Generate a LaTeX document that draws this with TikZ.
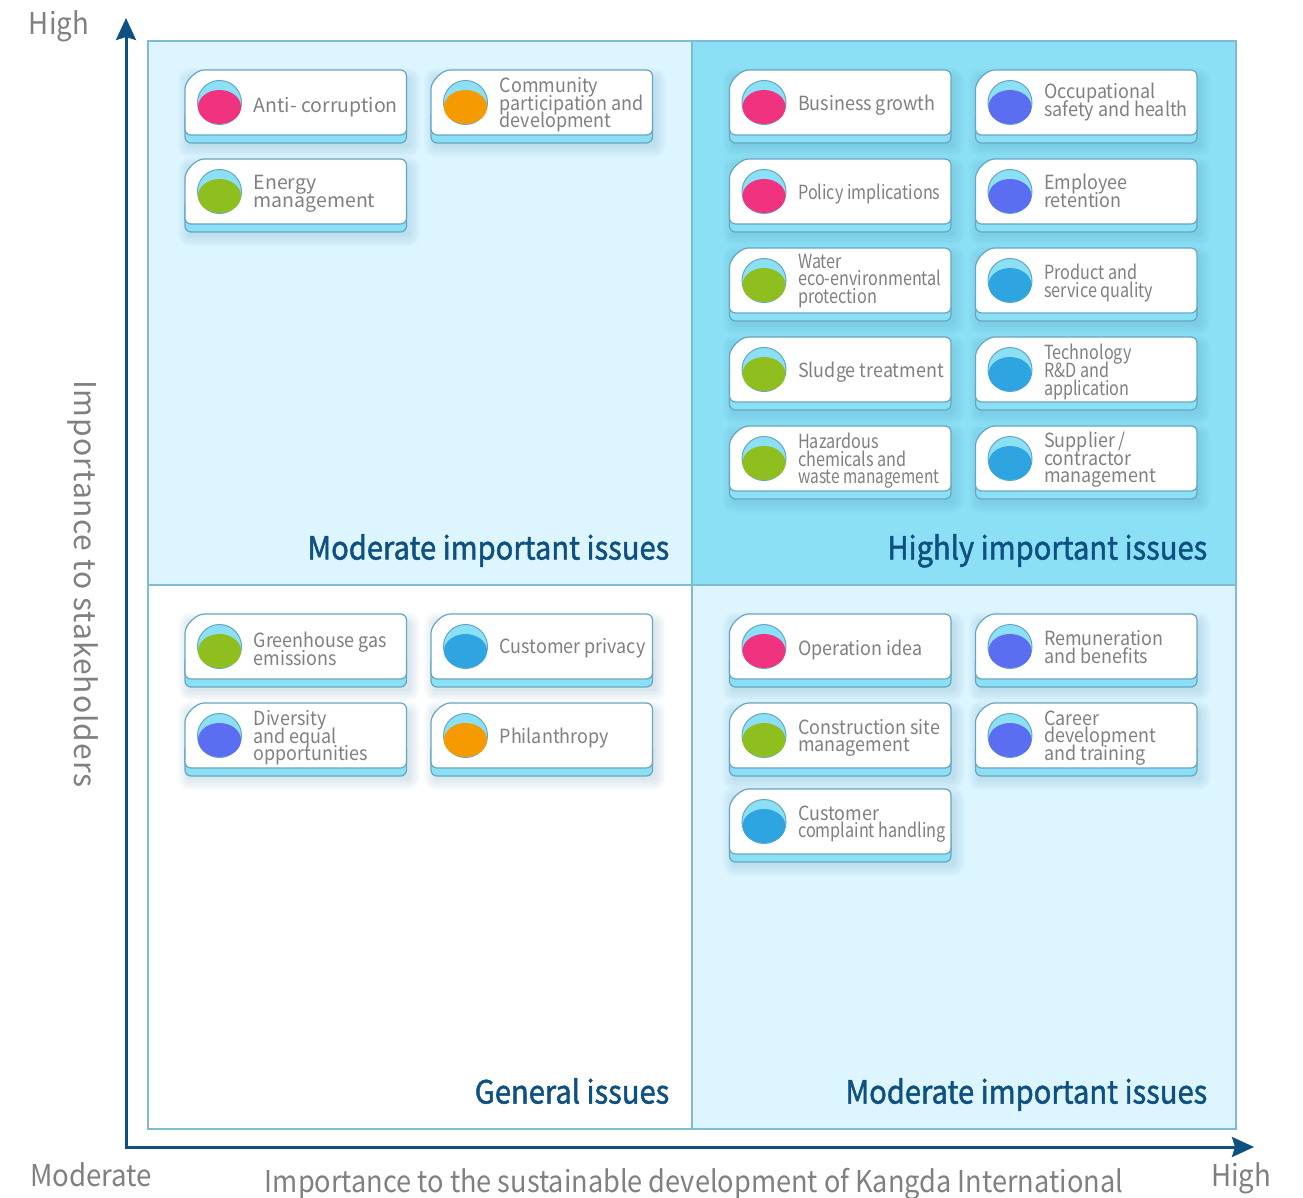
\documentclass[tikz,border=0pt]{standalone}
\usepackage{fontspec}
\setmainfont[FakeStretch=0.92]{Noto Sans CJK SC}
\newfontfamily\headfont[FakeStretch=0.91, FakeBold=1.5]{Noto Sans CJK SC}
\newfontfamily\tightfont[FakeStretch=0.83]{Noto Sans CJK SC}
\newfontfamily\thinfont[FakeStretch=0.79]{Noto Sans CJK SC}
\newfontfamily\widefont{Noto Sans CJK SC}
\newfontfamily\spacedfont[LetterSpace=3.5]{Noto Sans CJK SC}
\newfontfamily\longfont[FakeStretch=0.905]{Noto Sans CJK SC}
\newcommand\cardfont{\fontsize{19.5}{17.6}\selectfont\lineskiplimit=-20pt\relax}
\usetikzlibrary{arrows.meta, positioning}

\definecolor{paleblue}{HTML}{DCF5FF}
\definecolor{skyblue}{HTML}{8CE0F6}
\definecolor{edgeblue}{HTML}{7FBCD3}
\definecolor{cardedge}{HTML}{66A6BF}
\definecolor{navy}{HTML}{0E5082}
\definecolor{labelgrey}{HTML}{808080}
\definecolor{dotpink}{HTML}{F1327F}
\definecolor{dotgreen}{HTML}{8FBF1E}
\definecolor{dotblue}{HTML}{5B6EF2}
\definecolor{dotcyan}{HTML}{2EA5E0}
\definecolor{dotorange}{HTML}{F59A00}

\tikzset{
	labely/.store in = \labely,
	labely = 35,
	panel/.style = {draw=edgeblue, line width=2pt, minimum size=544pt, inner sep=0pt, anchor=north west},
	heading/.style = {font=\headfont\fontsize{32}{36}\selectfont, text=navy, inner sep=0pt},
	axislabel/.style = {font=\fontsize{30}{34}\selectfont, text=labelgrey, inner sep=0pt},
	cardtext/.style = {font=\cardfont, text=labelgrey, align=left, anchor=west, inner sep=0pt},
	pics/issue/.style 2 args = {code = {
		\foreach \g in {2,4,...,12}
			\fill[navy!60!skyblue, opacity=.03, rounded corners=\g pt]
				({5-\g},{10-\g}) rectangle ({223+\g},{75+\g});
		\draw[cardedge, fill=skyblue, line width=1.2pt, rounded corners=6pt] (0,40) -- (221.5,40) -- (221.5,73) -- (0,73) -- cycle;
		\draw[cardedge, fill=white, line width=1.2pt, rounded corners=6pt]
			(0,25) .. controls (0,11) and (11,0) .. (25,0) -- (221.5,0) -- (221.5,65) -- (0,65) -- cycle;
		\node[circle, draw=cardedge, fill=skyblue, line width=1pt, minimum size=44pt, inner sep=0pt] (-ball) at (34.5,32.5) {};
		\fill[#1] (34.5,37) ellipse [x radius=21.5, y radius=17];
		\node[cardtext] (-label) at (68.5,\labely) {#2};
	}}
}

\begin{document}
\begin{tikzpicture}[x=1pt, y=-1pt]
	\useasboundingbox (0,0) rectangle (1303,1198);
	\fill[white] (0,0) rectangle (1303,1198);

	\node[panel, fill=paleblue] (midleft) at (147,40) {};
	\node[panel, fill=skyblue] (highright) at (691,40) {};
	\node[panel, fill=white] (lowleft) at (147,584) {};
	\node[panel, fill=paleblue] (midright) at (691,584) {};

	\node[heading, above left=26.5pt and 23.5pt of midleft.south east, anchor=base east] (midlefttitle) {Moderate important issues};
	\node[heading, above left=26.5pt and 29.5pt of highright.south east, anchor=base east] (highrighttitle) {Highly important issues};
	\node[heading, above left=26.5pt and 23.5pt of lowleft.south east, anchor=base east] (lowlefttitle) {General issues};
	\node[heading, above left=26.5pt and 29.5pt of midright.south east, anchor=base east] (midrighttitle) {Moderate important issues};

	\coordinate (origin) at (126,1147);
	\coordinate (ytip) at (126,18);
	\coordinate (xtip) at (1254,1147);
	\draw[navy, line width=3pt, line join=miter, {Stealth[length=22pt, width=20pt, inset=3pt]}-{Stealth[length=22pt, width=20pt, inset=3pt]}] (ytip) -- (origin) -- (xtip);

	\node[axislabel] (yhigh) at (59,26) {High};
	\node[axislabel] (xlow) at (91,1175) {Moderate};
	\node[axislabel] (xhigh) at (1241,1178) {High};
	\node[axislabel, font=\longfont\fontsize{30}{34}\selectfont] (xtitle) at (694,1184) {Importance to the sustainable development of Kangda International};
	\node[axislabel, rotate=-90, font=\spacedfont\fontsize{30}{34}\selectfont] (ytitle) at (83,584) {Importance to stakeholders};

	% moderate, upper left
	\pic[labely=37] (anti) at (185,70) {issue={dotpink}{\widefont Anti- corruption}};
	\pic (community) at (431,70) {issue={dotorange}{Community\\participation and\\development}};
	\pic (energy) at (185,159) {issue={dotgreen}{\widefont Energy\\\widefont management}};

	% high, upper right
	\pic (business) at (729.5,70) {issue={dotpink}{Business growth}};
	\pic[labely=32] (occupational) at (975.5,70) {issue={dotblue}{Occupational\\safety and health}};
	\pic (policy) at (729.5,159) {issue={dotpink}{\tightfont Policy implications}};
	\pic[labely=32] (employee) at (975.5,159) {issue={dotblue}{Employee\\retention}};
	\pic[labely=33] (water) at (729.5,248) {issue={dotgreen}{\tightfont Water\\\tightfont eco-environmental\\\tightfont protection}};
	\pic (product) at (975.5,248) {issue={dotcyan}{\tightfont Product and\\\tightfont service quality}};
	\pic (sludge) at (729.5,337) {issue={dotgreen}{Sludge treatment}};
	\pic (technology) at (975.5,337) {issue={dotcyan}{\tightfont Technology\\\tightfont R\&D and\\\tightfont application}};
	\pic (hazardous) at (729.5,426) {issue={dotgreen}{\tightfont Hazardous\\\tightfont chemicals and\\\thinfont waste management}};
	\pic[labely=34] (supplier) at (975.5,426) {issue={dotcyan}{Supplier /\\contractor\\management}};

	% general, lower left
	\pic (greenhouse) at (185,614) {issue={dotgreen}{Greenhouse gas\\emissions}};
	\pic[labely=34] (privacy) at (431,614) {issue={dotcyan}{Customer privacy}};
	\pic (diversity) at (185,703) {issue={dotblue}{Diversity\\and equal\\opportunities}};
	\pic (philanthropy) at (431,703) {issue={dotorange}{Philanthropy}};

	% moderate, lower right
	\pic[labely=36] (operation) at (729.5,614) {issue={dotpink}{Operation idea}};
	\pic[labely=33] (remuneration) at (975.5,614) {issue={dotblue}{Remuneration\\and benefits}};
	\pic (construction) at (729.5,703) {issue={dotgreen}{Construction site\\management}};
	\pic (career) at (975.5,703) {issue={dotblue}{Career\\development\\and training}};
	\pic (complaint) at (729.5,789) {issue={dotcyan}{Customer\\\tightfont complaint handling}};
\end{tikzpicture}
\end{document}
